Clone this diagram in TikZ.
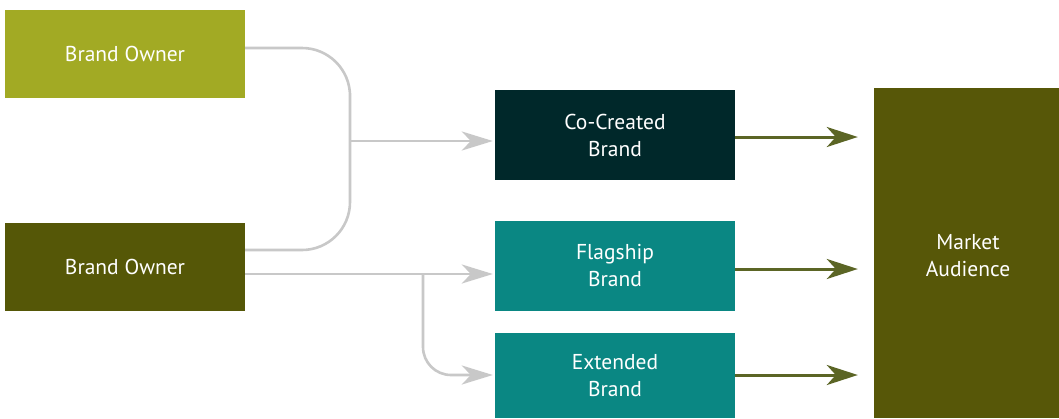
\documentclass[tikz,border=0pt]{standalone}
\usepackage{fontspec}
\setmainfont{PT Sans}
\usetikzlibrary{arrows.meta}
\definecolor{ownerlight}{HTML}{A2AA24}
\definecolor{ownerdark}{HTML}{555707}
\definecolor{cocreated}{HTML}{00282A}
\definecolor{brandteal}{HTML}{0A8783}
\definecolor{audience}{HTML}{575708}
\definecolor{linkgray}{HTML}{C8C8C8}
\definecolor{flowgreen}{HTML}{5B6525}
\tikzset{
  box/.style={draw=none, minimum width=240pt, inner sep=0pt, align=center,
    text=white, font=\fontsize{21.5}{27}\selectfont},
  link/.style={draw=linkgray, line width=2.6pt},
  linkarrow/.style={-{Stealth[length=31pt,width=19pt,inset=9pt]}, shorten >=2pt},
  flow/.style={draw=flowgreen, line width=3pt,
    -{Stealth[length=31pt,width=20pt,inset=9pt]}, shorten >=16pt},
}
\begin{document}
\begin{tikzpicture}[x=1pt,y=-1pt]
\useasboundingbox[fill=white] (0,0) rectangle (1059,418);
% source boxes
\node[box, fill=ownerlight, minimum height=88pt] (bo1) at (125,54) {Brand Owner};
\node[box, fill=ownerdark, minimum height=88pt] (bo2) at (125,267) {Brand Owner};
% brand boxes
\node[box, fill=cocreated, minimum height=90pt] (cc) at (615,135) {Co-Created\\Brand};
\node[box, fill=brandteal, minimum height=90pt] (fb) at (615,266) {Flagship\\Brand};
\node[box, fill=brandteal, minimum height=85pt] (eb) at (615,375.5) {Extended\\Brand};
% audience
\node[box, fill=audience, minimum width=185pt, minimum height=330pt] (ma) at (966.5,253) {};
\node[box] at (968,256) {Market\\Audience};
% merging owners into the co-created brand
\coordinate (spine) at (350,141);
\draw[link, rounded corners=48pt] (bo1.east |- 0,48) -| (spine) |- (bo2.east |- 0,250);
\draw[link, linkarrow] (spine) -- (cc.west |- spine);
% second owner into flagship and extended brands
\coordinate (split) at (423,274);
\draw[link, linkarrow] (bo2.east |- split) -- (fb.west |- split);
\draw[link, linkarrow, rounded corners=28pt] (split) |- (eb.west |- 0,375);
% brands reaching the market
\draw[flow] (cc.east |- 0,137) -- (ma.west |- 0,137);
\draw[flow] (fb.east |- 0,269) -- (ma.west |- 0,269);
\draw[flow] (eb.east |- 0,375) -- (ma.west |- 0,375);
\end{tikzpicture}
\end{document}
